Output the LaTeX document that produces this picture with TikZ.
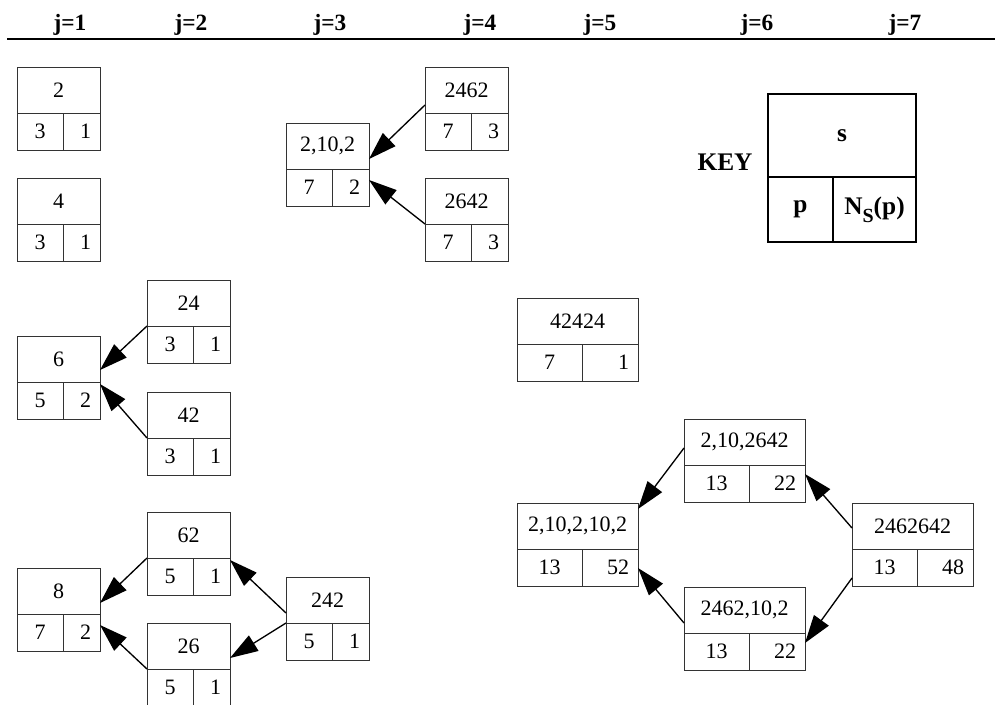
\documentclass[tikz,border=0pt]{standalone}
\usepackage{fontspec}
\setmainfont{Liberation Serif}
\usepackage{tikz}
\usetikzlibrary{arrows.meta,calc}

% one record box: name, x, y, width, left width, s, p, N_s(p)
\newcommand{\recbox}[8]{%
  \node[recpart, minimum width=#4*0.75pt, minimum height=34.5pt, anchor=north west] (#1) at (#2,#3) {#6};
  \node[recpart, minimum width=#5*0.75pt, minimum height=27.75pt, anchor=north west] (#1p) at (#1.south west) {#7};
  \node[recpart, minimum width=#4*0.75pt-#5*0.75pt, minimum height=27.75pt, anchor=north west] (#1n) at (#1p.north east) {};
  \node[anchor=east, inner xsep=6.5pt] (#1t) at (#1n.east) {#8};
}

\begin{document}
\begin{tikzpicture}[x=0.75pt, y=-0.75pt,
    font=\fontsize{16.5}{19}\selectfont,
    recpart/.style={draw=black!80, line width=0.75pt, inner sep=0pt, outer sep=0pt},
    colhead/.style={font=\fontsize{17.5}{20}\selectfont\bfseries, anchor=base},
    link/.style={line width=1pt, -{Triangle[length=21pt,width=13.5pt]}}]

    \useasboundingbox (0,0) rectangle (995,704);

    % Column headings and the rule below them
    \foreach \j/\x in {1/70, 2/191, 3/330, 4/480, 5/600, 6/757, 7/905} {
        \node[colhead] (head\j) at (\x,30) {j=\j};
    }
    \draw[line width=1.5pt] (7,39) -- (995,39);

    % Narrow boxes
    \recbox{b2}{17}{67}{83}{46}{2}{3}{1}
    \recbox{b4}{17}{178}{83}{46}{4}{3}{1}
    \recbox{b6}{17}{336}{83}{46}{6}{5}{2}
    \recbox{b8}{17}{568}{83}{46}{8}{7}{2}
    \recbox{b24}{147}{280}{83}{46}{24}{3}{1}
    \recbox{b42}{147}{392}{83}{46}{42}{3}{1}
    \recbox{b62}{147}{512}{83}{46}{62}{5}{1}
    \recbox{b26}{147}{623}{83}{46}{26}{5}{1}
    \recbox{b242}{286}{577}{83}{46}{242}{5}{1}
    \recbox{b2102}{286}{123}{83}{46}{2,10,2}{7}{2}
    \recbox{b2462}{425}{67}{83}{46}{2462}{7}{3}
    \recbox{b2642}{425}{178}{83}{46}{2642}{7}{3}

    % Wide boxes
    \recbox{b42424}{517}{298}{121}{65}{42424}{7}{1}
    \recbox{bfive}{517}{503}{121}{65}{2,10,2,10,2}{13}{52}
    \recbox{bupper}{684}{419}{121}{65}{2,10,2642}{13}{22}
    \recbox{blower}{684}{587}{121}{65}{2462,10,2}{13}{22}
    \recbox{bseven}{852}{503}{121}{65}{2462642}{13}{48}

    % Arrows
    \draw[link] ($(b2462.south west)+(0,-8)$) -- ($(b2102.south east)+(0,-10)$);
    \draw[link] (b2642.south west) -- ($(b2102n.north east)+(0,11)$);
    \draw[link] (b24.south west) -- ($(b6.south east)+(0,-12)$);
    \draw[link] (b42.south west) -- ($(b6n.north east)+(0,2)$);
    \draw[link] (b62.south west) -- ($(b8.south east)+(0,-11)$);
    \draw[link] (b26.south west) -- ($(b8n.north east)+(0,11)$);
    \draw[link] ($(b242.south west)+(0,-10)$) -- ($(b62n.north east)+(0,2)$);
    \draw[link] (b242.south west) -- ($(b26.south east)+(0,-11)$);
    \draw[link] ($(bupper.south west)+(0,-17)$) -- ($(bfive.north east)+(0,6)$);
    \draw[link] ($(blower.south west)+(0,-10)$) -- ($(bfive.south east)+(0,19)$);
    \draw[link] ($(bseven.south west)+(0,-21)$) -- ($(bupper.south east)+(0,9)$);
    \draw[link] ($(bsevenp.south west)+(0,-8)$) -- ($(blowern.north east)+(0,10)$);

    % Key
    \node[font=\fontsize{19}{21}\selectfont\bfseries] (keylabel) at (725,162) {KEY};
    \node[recpart, draw=black, line width=1.1pt, minimum width=111pt, minimum height=62.25pt,
        anchor=north west, font=\fontsize{19}{21}\selectfont\bfseries] (key) at (768,94) {s};
    \node[recpart, draw=black, line width=1.1pt, minimum width=48.75pt, minimum height=48.75pt,
        anchor=north west, font=\fontsize{19}{21}\selectfont\bfseries] (keyp) at (key.south west) {p};
    \node[recpart, draw=black, line width=1.1pt, minimum width=62.25pt, minimum height=48.75pt,
        anchor=north west, font=\fontsize{19}{21}\selectfont\bfseries] (keyn) at (keyp.north east)
        {N\raisebox{-0.7ex}{\fontsize{15}{15}\selectfont S}(p)};

\end{tikzpicture}
\end{document}
